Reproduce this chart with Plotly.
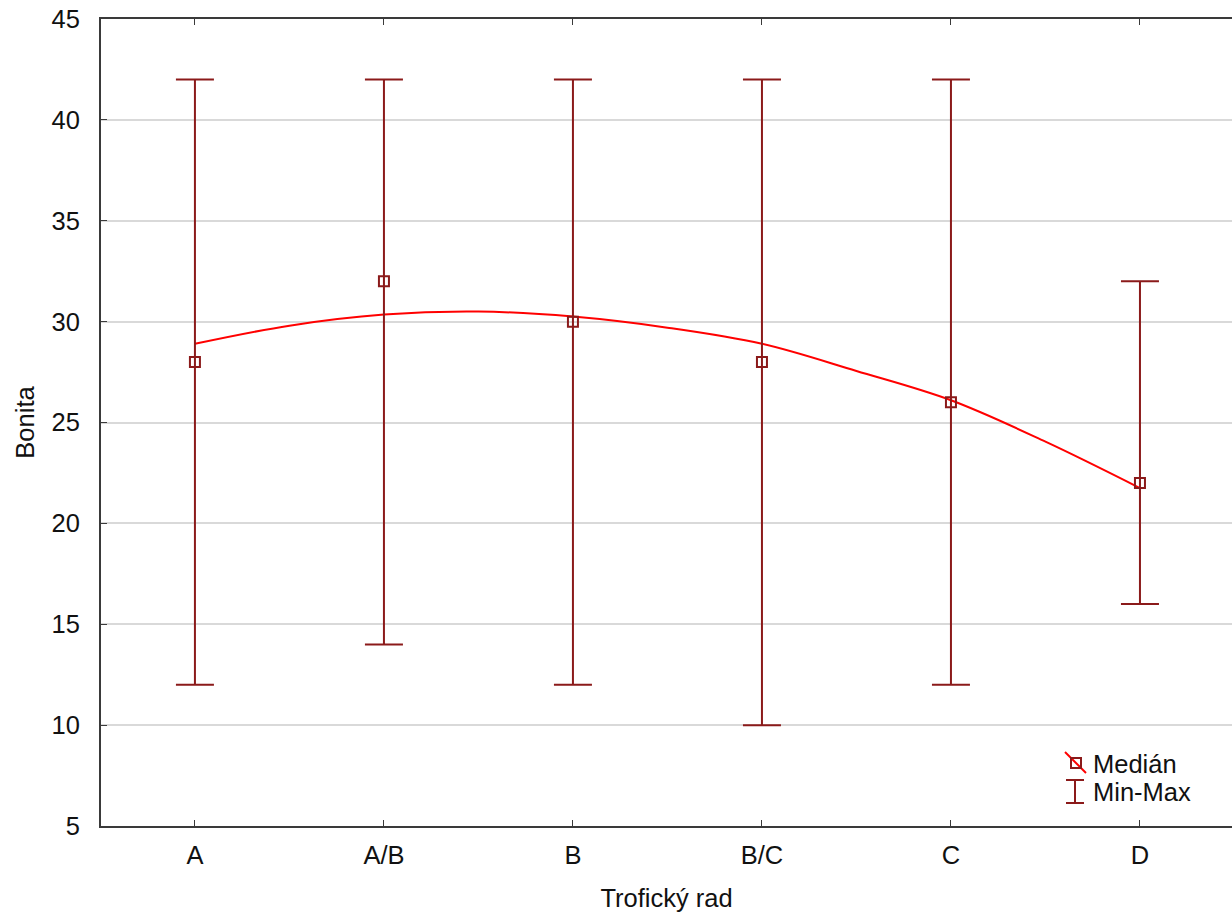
import plotly.graph_objects as go

# Trophic classes and site-index statistics
categories = ["A", "A/B", "B", "B/C", "C", "D"]
median = [28, 32, 30, 28, 26, 22]
minimum = [12, 14, 12, 10, 12, 16]
maximum = [42, 42, 42, 42, 42, 32]

# Smoothed trend of the medians, sampled at half-class steps
trend_x = [0, 0.5, 1, 1.5, 2, 2.5, 3, 3.5, 4, 4.5, 5]
trend_y = [28.9, 29.8, 30.35, 30.5, 30.25, 29.7, 28.9, 27.55, 26.1, 24.05, 21.75]

y_ticks = [5, 10, 15, 20, 25, 30, 35, 40, 45]

DARK_RED = "#8b1a1a"
FONT = "Liberation Sans, Arial, sans-serif"
FS = 25.5
W, H = 1232, 915
ML, MT, MB, MR = 101, 19, 89, 0

xs = list(range(len(categories)))

fig = go.Figure()

fig.add_trace(go.Scatter(
    x=trend_x, y=trend_y, mode="lines",
    line=dict(color="#ff0000", width=2, shape="spline", smoothing=1.0),
    hoverinfo="skip", showlegend=False,
))

fig.add_trace(go.Scatter(
    x=xs, y=median, mode="markers",
    marker=dict(symbol="square-open", size=10, color=DARK_RED,
                line=dict(color=DARK_RED, width=2)),
    error_y=dict(
        type="data", symmetric=False,
        array=[mx - md for mx, md in zip(maximum, median)],
        arrayminus=[md - mn for md, mn in zip(median, minimum)],
        color=DARK_RED, thickness=2, width=19,
    ),
    showlegend=False,
))

# Hand-drawn legend in the lower right corner (paper coordinates)
pw = W - ML - MR
ph = H - MT - MB


def px(x):
    return (x - ML) / pw


def py(y):
    return (H - MB - y) / ph


shapes = [
    # Medián: line through an open square
    dict(type="line", xref="paper", yref="paper",
         x0=px(1065), y0=py(752), x1=px(1086), y1=py(773),
         line=dict(color="#ff0000", width=2)),
    dict(type="rect", xref="paper", yref="paper",
         x0=px(1071), y0=py(758), x1=px(1081), y1=py(768),
         line=dict(color=DARK_RED, width=2), fillcolor="rgba(0,0,0,0)"),
    # Min-Max: whisker glyph
    dict(type="line", xref="paper", yref="paper",
         x0=px(1075), y0=py(780), x1=px(1075), y1=py(803),
         line=dict(color=DARK_RED, width=2)),
    dict(type="line", xref="paper", yref="paper",
         x0=px(1066), y0=py(780), x1=px(1084), y1=py(780),
         line=dict(color=DARK_RED, width=2)),
    dict(type="line", xref="paper", yref="paper",
         x0=px(1066), y0=py(803), x1=px(1084), y1=py(803),
         line=dict(color=DARK_RED, width=2)),
]

annotations = [
    dict(text="Medián", xref="paper", yref="paper", x=px(1091), y=py(764),
         xanchor="left", yanchor="middle", showarrow=False,
         font=dict(family=FONT, size=FS, color="#111111")),
    dict(text="Min-Max", xref="paper", yref="paper", x=px(1091), y=py(792),
         xanchor="left", yanchor="middle", showarrow=False,
         font=dict(family=FONT, size=FS, color="#111111")),
]

fig.update_layout(
    width=W, height=H,
    margin=dict(l=ML, r=MR, t=MT, b=MB, pad=0),
    paper_bgcolor="white", plot_bgcolor="white",
    font=dict(family=FONT, size=FS, color="#111111"),
    shapes=shapes, annotations=annotations,
    showlegend=False,
)

fig.update_xaxes(
    range=[-0.497, 5.487],
    tickvals=xs, ticktext=categories,
    showgrid=False, zeroline=False,
    showline=True, linecolor="#3a3a3a", linewidth=2, mirror="ticks",
    ticks="inside", ticklen=6, tickwidth=1, tickcolor="#3a3a3a",
    ticklabelstandoff=5,
    title=dict(text="Trofický rad", standoff=22, font=dict(size=FS)),
    tickfont=dict(size=FS),
)

fig.update_yaxes(
    range=[5, 45], tickvals=y_ticks,
    showgrid=True, gridcolor="#d9d9d9", gridwidth=2, zeroline=False,
    showline=True, linecolor="#3a3a3a", linewidth=2, mirror=False,
    ticks="inside", ticklen=6, tickwidth=1, tickcolor="#3a3a3a",
    ticklabelstandoff=14,
    title=dict(text="Bonita", standoff=10, font=dict(size=FS)),
    tickfont=dict(size=FS),
)

fig.write_html("out.html")
